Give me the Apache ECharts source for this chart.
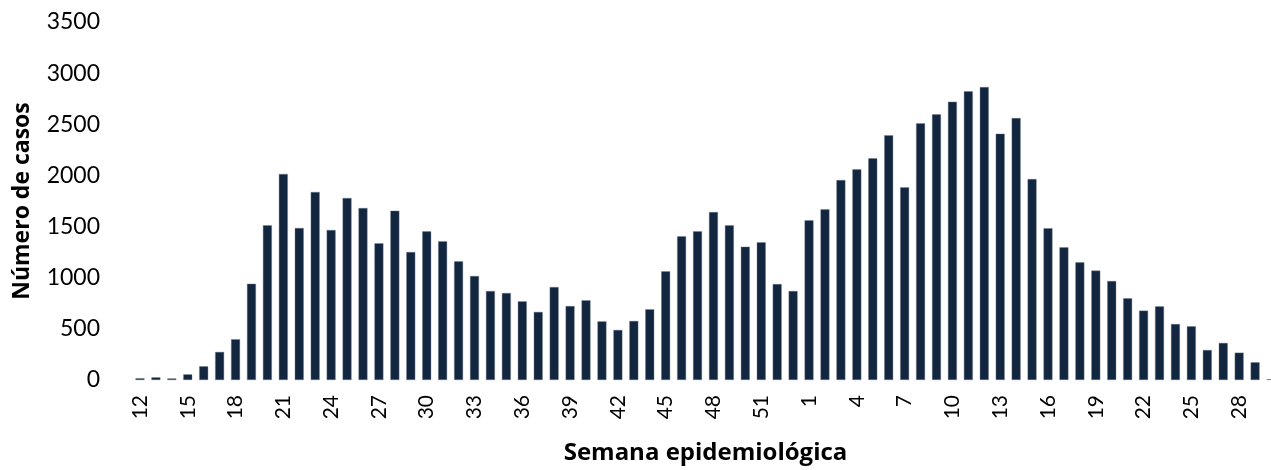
<!DOCTYPE html>
<html>
<head>
<meta charset="utf-8">
<script src="https://cdn.jsdelivr.net/npm/echarts@6/dist/echarts.min.js"></script>
<style>
  html, body { margin: 0; padding: 0; background: #fff; }
  #chart { width: 1271px; height: 470px; }
</style>
</head>
<body>
<div id="chart"></div>
<script>
// semanas epidemiológicas 12-53 (primer año) y 1-30 (segundo año)
const weeksA = ['12','13','14','15','16','17','18','19','20','21','22','23','24','25','26','27','28','29','30','31','32','33','34','35','36','37','38','39','40','41','42','43','44','45','46','47','48','49','50','51','52','53'];
const casesA = [17, 26, 15, 55, 134, 274, 398, 941, 1512, 2014, 1486, 1838, 1466, 1779, 1681, 1336, 1655, 1251, 1453, 1356, 1160, 1017, 870, 850, 769, 665, 909, 723, 779, 573, 489, 577, 691, 1062, 1404, 1453, 1642, 1512, 1303, 1346, 938, 870];
const weeksB = ['1','2','3','4','5','6','7','8','9','10','11','12','13','14','15','16','17','18','19','20','21','22','23','24','25','26','27','28','29','30'];
const casesB = [1561, 1668, 1955, 2059, 2167, 2392, 1883, 2509, 2597, 2721, 2822, 2864, 2408, 2561, 1965, 1483, 1297, 1150, 1069, 968, 799, 678, 720, 547, 525, 293, 362, 267, 173, 8];

const weeks = weeksA.concat(weeksB);
const cases = casesA.concat(casesB);

const chart = echarts.init(document.getElementById('chart'), null, { renderer: 'canvas' });
const font = 'Lato, "Open Sans", sans-serif';
const titleFont = '"Open Sans", Lato, sans-serif';

chart.setOption({
  animation: false,
  grid: { left: 132, top: 22, width: 1147, height: 358, outerBoundsMode: 'none', containLabel: false },
  xAxis: {
    type: 'category',
    data: weeks,
    name: 'Semana epidemiológica',
    nameLocation: 'middle',
    nameGap: 61,
    nameMoveOverlap: false,
    nameTextStyle: { fontFamily: titleFont, fontSize: 24, fontWeight: 'bold', color: '#000' },
    axisLine: { show: false },
    axisTick: { show: false },
    axisLabel: {
      interval: 2,
      rotate: 90,
      margin: 15,
      fontFamily: font,
      fontSize: 21,
      color: '#000'
    }
  },
  yAxis: {
    type: 'value',
    min: 0,
    max: 3500,
    interval: 500,
    name: 'Número de casos',
    nameLocation: 'middle',
    nameGap: 98,
    nameMoveOverlap: false,
    nameTextStyle: { fontFamily: titleFont, fontSize: 23, fontWeight: 'bold', color: '#000' },
    axisLine: { show: false },
    axisTick: { show: false },
    splitLine: { show: false },
    axisLabel: {
      margin: 32,
      fontFamily: font,
      fontSize: 23,
      color: '#000',
      formatter: v => String(v)
    }
  },
  series: [{
    type: 'bar',
    data: cases,
    barWidth: '56%',
    itemStyle: { color: '#13263f', borderColor: '#6f7d90', borderWidth: 0.4 }
  }]
});
</script>
</body>
</html>
